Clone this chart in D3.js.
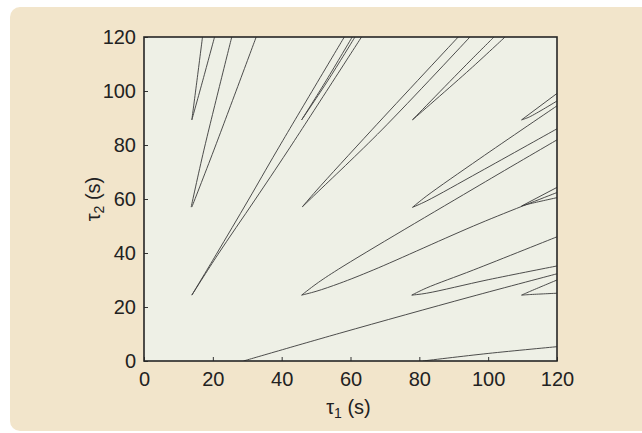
<!DOCTYPE html>
<html>
<head>
<meta charset="utf-8">
<script src="https://cdn.jsdelivr.net/npm/d3@7"></script>
<style>
  html, body { margin: 0; padding: 0; background: #ffffff; }
  svg { display: block; }
</style>
</head>
<body>
<svg id="chart" width="642" height="433"></svg>
<script>
// ---- data ----
const xTicks = [0, 20, 40, 60, 80, 100, 120];
const yTicks = [0, 20, 40, 60, 80, 100, 120];
const xLabel = "τ";  const xSub = "1";
const yLabel = "τ";  const ySub = "2";

// stability crossing curves: [tau1, tau2] points, each from tongue tip outward
const t02a = [[13.9, 89.3], [15.4, 104.0], [17.0, 120]];
const t02b = [[13.9, 89.3], [17.1, 104.0], [20.5, 120]];
const t01a = [[13.7, 57.0], [17.4, 78.1], [25.5, 120]];
const t01b = [[13.9, 57.0], [20.3, 78.1], [32.6, 120]];
const t00a = [[13.9, 24.4], [21.0, 39.5], [30.3, 59.6], [38.7, 78.1], [58.2, 120]];
const t00b = [[13.9, 24.4], [21.5, 39.5], [32.2, 59.6], [41.9, 78.1], [63.2, 120]];
const t12a = [[45.8, 89.3], [53.0, 104.0], [60.5, 120]];
const t12b = [[45.8, 89.3], [53.5, 104.0], [61.3, 120]];
const t11a = [[46.0, 57.1], [50.0, 63.0], [66.2, 85.6], [91.3, 120]];
const t11b = [[46.0, 57.1], [50.0, 62.0], [69.1, 85.6], [94.7, 120]];
const t10a = [[45.8, 24.4], [50.0, 28.5], [56.5, 34.0], [97.6, 65.2], [120, 81.9]];
const t10b = [[45.8, 24.4], [50.0, 25.8], [56.9, 28.8], [66.6, 33.7], [97.6, 51.0], [120, 62.4]];
const t22a = [[78.0, 89.3], [94.7, 111.1], [101.7, 120]];
const t22b = [[78.0, 89.3], [94.7, 108.0], [104.9, 120]];
const t21a = [[78.0, 56.9], [82.0, 61.0], [97.6, 75.0], [120, 94.5]];
const t21b = [[78.0, 56.9], [82.0, 59.2], [97.6, 70.1], [120, 86.0]];
const t20a = [[77.8, 24.4], [82.0, 27.0], [95.7, 33.7], [120, 46.0]];
const t20b = [[77.8, 24.4], [82.1, 25.1], [100.0, 30.1], [120, 35.2]];
const t32a = [[109.7, 89.3], [120, 99.1]];
const t32b = [[109.7, 89.3], [112.0, 90.4], [120, 96.3]];
const t31a = [[109.7, 57.4], [120, 64.3]];
const t31b = [[109.7, 57.4], [112.0, 58.2], [120, 60.5]];
const t30a = [[109.7, 24.4], [112.0, 25.7], [120, 30.0]];
const t30b = [[109.7, 24.4], [112.0, 24.6], [120, 25.1]];
const tLowA = [[28.9, 0], [56.9, 10.3], [94.7, 23.7], [120, 32.3]];
const tLowB = [[81.0, 0], [100.0, 2.8], [120, 5.3]];

const curves = [t02a, t02b, t01a, t01b, t00a, t00b, t12a, t12b, t11a, t11b,
                t10a, t10b, t22a, t22b, t21a, t21b, t20a, t20b, t32a, t32b,
                t31a, t31b, t30a, t30b, tLowA, tLowB];

// ---- drawing ----
const svg = d3.select("#chart");
const plot = { left: 144, right: 557, top: 37, bottom: 361 };
const font = "'Liberation Sans', Arial, Helvetica, sans-serif";
const fs = 20;

// outer beige panel
svg.append("rect")
  .attr("x", 10).attr("y", 7)
  .attr("width", 650).attr("height", 424)
  .attr("rx", 10).attr("ry", 10)
  .attr("fill", "#f2e5cb");

const x = d3.scaleLinear().domain([0, 120]).range([plot.left, plot.right]);
const y = d3.scaleLinear().domain([0, 120]).range([plot.bottom, plot.top]);

// plot background
svg.append("rect")
  .attr("x", plot.left).attr("y", plot.top)
  .attr("width", plot.right - plot.left).attr("height", plot.bottom - plot.top)
  .attr("fill", "#eef0e6");

svg.append("clipPath").attr("id", "clip")
  .append("rect")
  .attr("x", plot.left).attr("y", plot.top)
  .attr("width", plot.right - plot.left).attr("height", plot.bottom - plot.top);

const line = d3.line()
  .x(d => x(d[0])).y(d => y(d[1]))
  .curve(d3.curveCatmullRom.alpha(0.5));

svg.append("g").attr("clip-path", "url(#clip)")
  .selectAll("path").data(curves).join("path")
  .attr("d", line)
  .attr("fill", "none")
  .attr("stroke", "#3a3a3a")
  .attr("stroke-width", 0.9);

// axes
const xAxis = d3.axisBottom(x).tickValues(xTicks).tickSize(-4).tickPadding(11)
  .tickFormat(d3.format("d"));
const yAxis = d3.axisLeft(y).tickValues(yTicks).tickSize(-4).tickPadding(8)
  .tickFormat(d3.format("d"));

const gx = svg.append("g").attr("transform", `translate(0,${plot.bottom})`).call(xAxis);
const gy = svg.append("g").attr("transform", `translate(${plot.left},0)`).call(yAxis);
[gx, gy].forEach(g => {
  g.select(".domain").remove();
  g.selectAll(".tick line").attr("stroke", "#333").attr("stroke-width", 1);
  g.selectAll(".tick text")
    .attr("font-family", font).attr("font-size", fs).attr("fill", "#222");
});

// frame
svg.append("rect")
  .attr("x", plot.left).attr("y", plot.top)
  .attr("width", plot.right - plot.left).attr("height", plot.bottom - plot.top)
  .attr("fill", "none").attr("stroke", "#262626").attr("stroke-width", 1.6);

// axis titles
const xt = svg.append("text")
  .attr("x", (plot.left + plot.right) / 2 - 2).attr("y", 414)
  .attr("text-anchor", "middle")
  .attr("font-family", font).attr("font-size", fs).attr("fill", "#222");
xt.append("tspan").text(xLabel);
xt.append("tspan").attr("font-size", 14).attr("dy", 4).text(xSub);
xt.append("tspan").attr("dy", -4).text(" (s)");

const yt = svg.append("text")
  .attr("transform", `translate(100,${(plot.top + plot.bottom) / 2}) rotate(-90)`)
  .attr("text-anchor", "middle")
  .attr("font-family", font).attr("font-size", fs).attr("fill", "#222");
yt.append("tspan").text(yLabel);
yt.append("tspan").attr("font-size", 14).attr("dy", 4).text(ySub);
yt.append("tspan").attr("dy", -4).text(" (s)");
</script>
</body>
</html>
